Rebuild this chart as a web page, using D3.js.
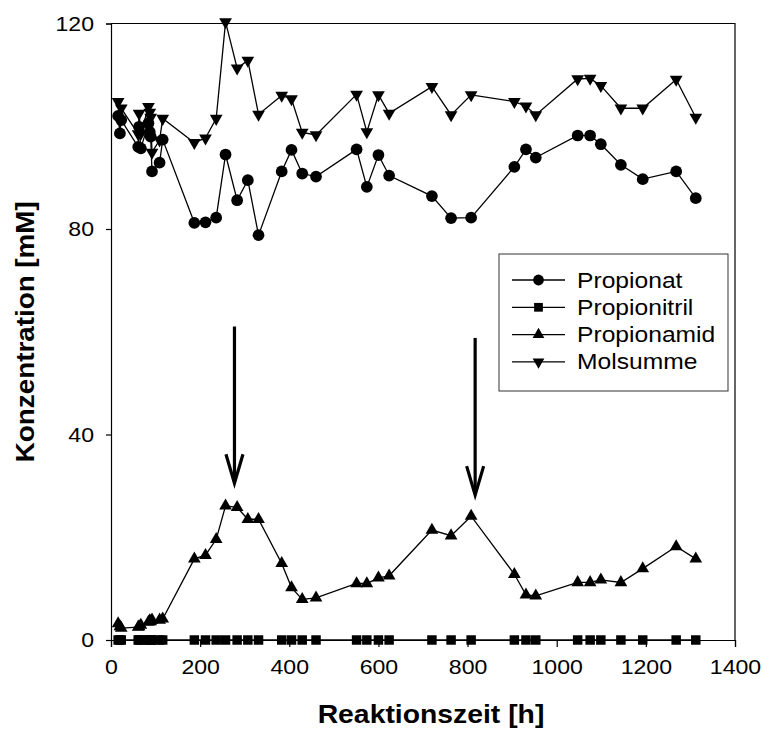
<!DOCTYPE html>
<html>
<head>
<meta charset="utf-8">
<script src="https://cdn.jsdelivr.net/npm/d3@7"></script>
<style>
  body { margin: 0; background: #fff; }
  text { font-family: "Liberation Sans", Arial, sans-serif; fill: #000; }
</style>
</head>
<body>
<svg id="chart" width="763" height="731"></svg>
<script>
// Sampling times [h]
const hours = [16, 20, 23, 61, 63, 67, 84, 87, 89, 92, 109, 116,
  187, 212, 236, 257, 283, 307, 331, 383, 405, 429, 460, 551, 574, 600, 624,
  720, 763, 808, 905, 931, 953, 1047, 1075, 1099, 1144, 1193, 1268, 1312];

// Concentrations [mM]
const propionat = [102.0, 98.6, 101.2, 96.0, 99.9, 95.7, 100.6, 98.9, 98.0, 91.2, 92.9, 97.4,
  81.2, 81.3, 82.2, 94.5, 85.6, 89.5, 78.8, 91.2, 95.4, 90.8, 90.2, 95.5, 88.2, 94.4, 90.4,
  86.4, 82.1, 82.2, 92.1, 95.5, 93.9, 98.2, 98.2, 96.5, 92.5, 89.7, 91.2, 86.0];

const propionitril = [0, 0, 0, 0, 0, 0, 0, 0, 0, 0, 0, 0,
  0, 0, 0, 0, 0, 0, 0, 0, 0, 0, 0, 0, 0, 0, 0,
  0, 0, 0, 0, 0, 0, 0, 0, 0, 0, 0, 0, 0];

const propionamid = [3.2, 2.6, 2.3, 2.5, 2.6, 2.9, 3.5, 3.8, 3.6, 3.9, 3.9, 4.1,
  15.8, 16.5, 19.6, 26.1, 25.8, 23.5, 23.5, 14.9, 10.2, 7.9, 8.2, 11.0, 11.0, 12.1, 12.5,
  21.4, 20.3, 24.1, 12.8, 8.8, 8.6, 11.2, 11.2, 11.7, 11.2, 13.9, 18.2, 15.8];

const molsumme = [104.8, 101.2, 103.5, 98.5, 102.5, 98.6, 103.8, 102.7, 101.7, 94.9, 97.3, 101.5,
  96.8, 97.7, 101.5, 120.3, 111.3, 112.8, 102.3, 106.0, 105.3, 98.8, 98.3, 106.2, 98.9, 106.1, 102.5,
  107.7, 102.2, 106.1, 104.8, 103.9, 102.2, 109.2, 109.3, 107.9, 103.5, 103.5, 109.1, 101.7];

const seriesNames = ["Propionat", "Propionitril", "Propionamid", "Molsumme"];

const xTicks = [0, 200, 400, 600, 800, 1000, 1200, 1400];
const yTicks = [0, 40, 80, 120];

// Feed events marked by arrows: time [h], arrow start and tip [mM]
const arrowHours = [277, 817];
const arrowFrom = [61.0, 58.8];
const arrowTo = [30.5, 28.2];

const xTitle = "Reaktionszeit [h]";
const yTitle = "Konzentration [mM]";

// ---------------------------------------------------------------
const svg = d3.select("#chart");
const plot = { left: 111, right: 735, top: 23.5, bottom: 640 };
const stretch = 1.1; // slightly wide lettering

const x = d3.scaleLinear().domain([0, 1400]).range([plot.left, plot.right]);
const y = d3.scaleLinear().domain([0, 120]).range([plot.bottom, plot.top]);

// frame (top and right edges)
svg.append("path")
  .attr("d", `M${plot.left},${plot.top}H${plot.right}V${plot.bottom}`)
  .attr("fill", "none").attr("stroke", "#000").attr("stroke-width", 1.2);

// axes
const xAxis = svg.append("g")
  .attr("transform", `translate(0,${plot.bottom})`)
  .call(d3.axisBottom(x).tickValues(xTicks).tickFormat(d3.format("d")).tickSize(7).tickPadding(12));
const yAxis = svg.append("g")
  .attr("transform", `translate(${plot.left},0)`)
  .call(d3.axisLeft(y).tickValues(yTicks).tickFormat(d3.format("d")).tickSize(5).tickPadding(12));

[xAxis, yAxis].forEach(g => {
  g.select(".domain").attr("stroke", "#000").attr("stroke-width", 1.2);
  g.selectAll(".tick line").attr("stroke", "#000").attr("stroke-width", 1.2);
  g.selectAll(".tick text")
    .style("font-family", '"Liberation Sans", Arial, sans-serif')
    .style("font-size", "21px").attr("fill", "#000")
    .attr("transform", `scale(${stretch},1)`);
});
yAxis.selectAll(".tick text").attr("x", -17 / stretch);

// axis titles
svg.append("text")
  .attr("transform", `translate(${(plot.left + plot.right) / 2 + 8},723) scale(1.09,1)`)
  .attr("text-anchor", "middle")
  .style("font-size", "26px").style("font-weight", "bold")
  .text(xTitle);

svg.append("text")
  .attr("transform", `translate(34,${(plot.top + plot.bottom) / 2}) rotate(-90) scale(1.07,1)`)
  .attr("text-anchor", "middle")
  .style("font-size", "26px").style("font-weight", "bold")
  .text(yTitle);

// symbols
const symbolDefs = [
  { type: d3.symbolCircle, size: 108, rotate: 0 },
  { type: d3.symbolSquare, size: 90, rotate: 0 },
  { type: d3.symbolTriangle, size: 70, rotate: 0 },
  { type: d3.symbolTriangle, size: 70, rotate: 180 }
];

const allValues = [propionat, propionitril, propionamid, molsumme];
const line = d3.line().x(d => x(d[0])).y(d => y(d[1]));

allValues.forEach((vals, i) => {
  const pts = hours.map((h, k) => [h, vals[k]]);
  const g = svg.append("g");
  g.append("path").datum(pts)
    .attr("d", line)
    .attr("fill", "none").attr("stroke", "#000").attr("stroke-width", 1.3);
  const sym = d3.symbol().type(symbolDefs[i].type).size(symbolDefs[i].size);
  g.selectAll("path.pt").data(pts).join("path")
    .attr("class", "pt")
    .attr("d", sym)
    .attr("transform", d => `translate(${x(d[0])},${y(d[1])}) rotate(${symbolDefs[i].rotate})`)
    .attr("fill", "#000");
});

// arrows
arrowHours.forEach((h, i) => {
  const ax = x(h), y0 = y(arrowFrom[i]), y1 = y(arrowTo[i]);
  const g = svg.append("g").attr("fill", "none").attr("stroke", "#000").attr("stroke-width", 3.2);
  g.append("path").attr("d", `M${ax},${y0}V${y1 - 2}`);
  g.append("path")
    .attr("d", `M${ax - 8.5},${y1 - 29}L${ax},${y1}L${ax + 8.5},${y1 - 29}`)
    .attr("stroke-linejoin", "miter");
});

// legend
const lg = { x: 499, y: 254, w: 229, h: 137 };
svg.append("rect")
  .attr("x", lg.x).attr("y", lg.y).attr("width", lg.w).attr("height", lg.h)
  .attr("fill", "#fff").attr("stroke", "#333").attr("stroke-width", 1);

seriesNames.forEach((name, i) => {
  const cy = 280 + i * 27.3;
  svg.append("line")
    .attr("x1", 512).attr("x2", 565).attr("y1", cy).attr("y2", cy)
    .attr("stroke", "#000").attr("stroke-width", 1.3);
  svg.append("path")
    .attr("d", d3.symbol().type(symbolDefs[i].type).size(symbolDefs[i].size * 0.85))
    .attr("transform", `translate(538.5,${cy}) rotate(${symbolDefs[i].rotate})`)
    .attr("fill", "#000");
  svg.append("text")
    .attr("transform", `translate(577,${cy + 7.5}) scale(1.12,1)`)
    .style("font-size", "22px")
    .text(name);
});
</script>
</body>
</html>
